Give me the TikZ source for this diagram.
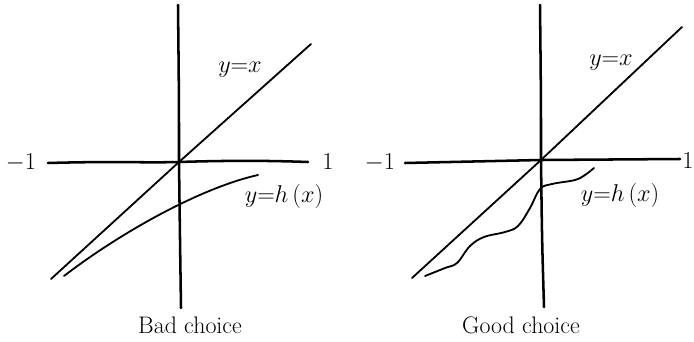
\documentclass[tikz,border=0pt]{standalone}
\usepackage{tikz}
\usetikzlibrary{positioning,calc}
\tikzset{
  axis/.style={line width=1.8pt, line cap=round},
  graph/.style={line width=1.3pt, line cap=round},
  tick/.style={font=\fontsize{16}{18}\selectfont, inner sep=0pt},
  eqlabel/.style={font=\fontsize{16}{18}\selectfont, inner sep=0pt},
  caption/.style={font=\fontsize{17}{20}\selectfont, inner sep=0pt},
}

\begin{document}
\begin{tikzpicture}[x=0.025cm, y=-0.025cm]
\useasboundingbox (0,0) rectangle (694,341);
% --- bad choice, axes
\coordinate (bo) at (179,162);
\coordinate (bxl) at (48,163);
\coordinate (bxr) at (308,162);
\coordinate (byt) at (178,5);
\coordinate (byb) at (181,308);
\draw[axis] (bxl) .. controls (120,161) and (140,163) .. (bo) .. controls (240,160) and (280,161) .. (bxr);
\draw[axis] (byt) .. controls (179,100) .. (bo) .. controls (180,240) .. (byb);
\node[tick] (bm1) at (21,163) {$-1$};
\node[tick] (bp1) at (328,162) {$1$};
% --- bad choice, graphs
\coordinate (bd1) at (51,279);
\coordinate (bd2) at (311,44);
\draw[graph] (bd1) -- (bo) -- (bd2);
\draw[graph] (64,276) .. controls (120,233) and (200,188) .. (258,175);
\node[eqlabel] (byx) at (240,70) {$y{=}x$};
\node[eqlabel] (byh) at (284,196) {$y{=}h\,(x)$};
\node[caption] (bcap) at (190,325) {Bad choice};
% --- good choice, axes
\coordinate (go) at (541,160);
\coordinate (gxl) at (405,163);
\coordinate (gxr) at (680,159);
\coordinate (gyt) at (540,5);
\coordinate (gyb) at (544,307);
\draw[axis] (gxl) -- (go) -- (gxr);
\draw[axis] (gyt) .. controls (541,100) .. (go) .. controls (542,240) .. (gyb);
\node[tick] (gm1) at (380,163) {$-1$};
\node[tick] (gp1) at (688,161) {$1$};
% --- good choice, graphs
\coordinate (gd1) at (412,278);
\coordinate (gd2) at (682,27);
\draw[graph] (gd1) -- (go) -- (gd2);
\draw[graph] plot[smooth, tension=0.6] coordinates {(425,276) (445,268) (457,263) (470,246) (484,237) (505,232) (518,226) (530,208) (540,189) (552,184) (575,180) (585,175) (594,168)};
\node[eqlabel] (gyx) at (611,63) {$y{=}x$};
\node[eqlabel] (gyh) at (620,195) {$y{=}h\,(x)$};
\node[caption] (gcap) at (521,325) {Good choice};
\end{tikzpicture}
\end{document}
